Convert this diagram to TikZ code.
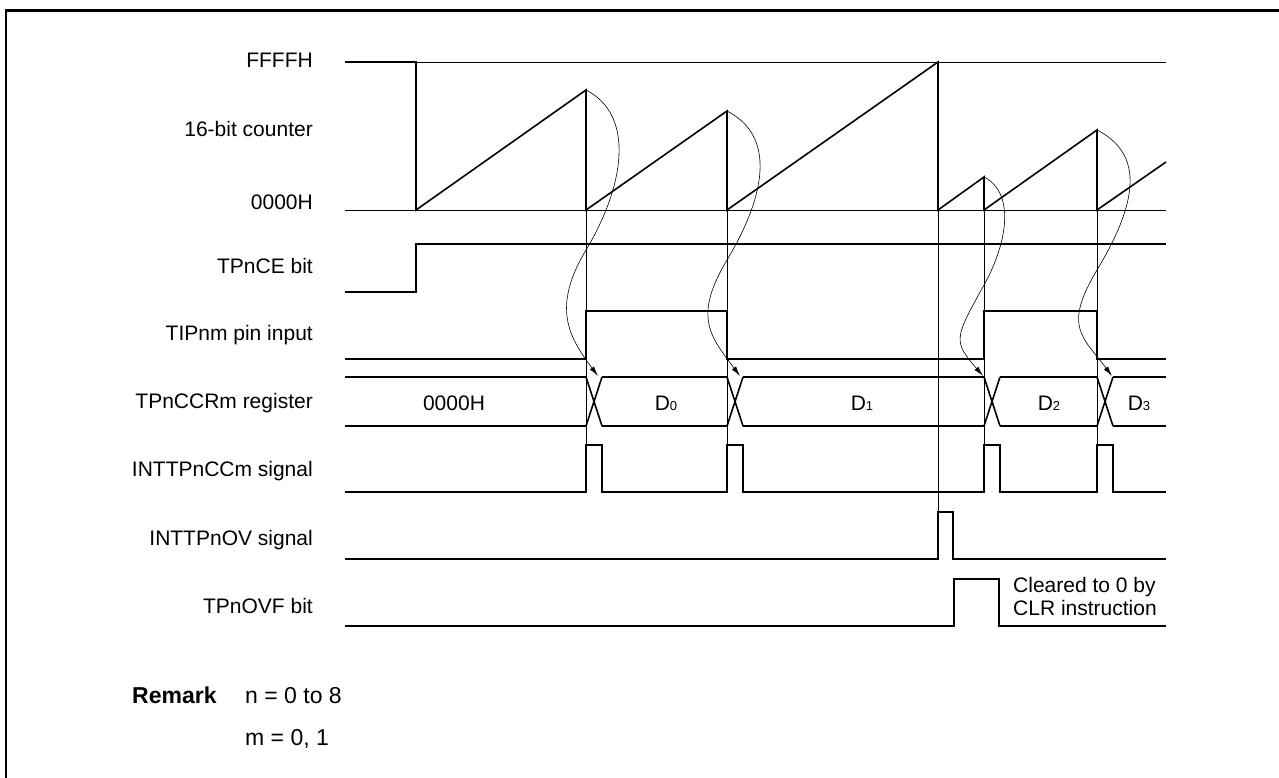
\documentclass[tikz,border=0pt]{standalone}
\usepackage{fontspec}
\setmainfont{Liberation Sans}
\usepackage{tikz}
\usetikzlibrary{arrows.meta,calc}
\tikzset{  wave/.style={line width=1.6pt},
  guide/.style={line width=0.6pt},
  capt/.style={line width=0.6pt,-{Latex[length=10pt,width=5pt]}},
  lbl/.style={anchor=base east,inner sep=0pt,font=\fontsize{21}{25}\selectfont},
  busl/.style={anchor=base,inner sep=0pt,font=\fontsize{21}{25}\selectfont},
  rmk/.style={anchor=base west,inner sep=0pt,font=\fontsize{23}{27}\selectfont} }
\newcommand{\dsub}[1]{{\fontsize{13}{13}\selectfont #1}}

\begin{document}
\begin{tikzpicture}[x=1pt,y=-1pt]
    \useasboundingbox (0,0) rectangle (1279,778);
    \draw[line width=2.5pt] (6,778) -- (6,10.5) -- (1279,10.5);
    \node[lbl] (ffff) at (313,68) {FFFFH};
    \node[lbl] (cnt) at (313,137) {16-bit counter};
    \node[lbl] (zero) at (313,209) {0000H};
    \node[lbl] (ce) at (313,273) {TPnCE bit};
    \node[lbl] (tip) at (313,340) {TIPnm pin input};
    \node[lbl] (ccr) at (313,408) {TPnCCRm register};
    \node[lbl] (intcc) at (313,476) {INTTPnCCm signal};
    \node[lbl] (intov) at (313,545) {INTTPnOV signal};
    \node[lbl] (ovf) at (313,613) {TPnOVF bit};
    \draw[guide] (416,62) -- (1166,62);
    \draw[guide] (345,210) -- (1166,210);
    \draw[wave] (345,62) -- (416,62) -- (416,210) -- (586,90) -- (586,210) -- (727,111) -- (727,210)
      -- (938,62) -- (938,210) -- (984,177) -- (984,210) -- (1097,130) -- (1097,210) -- (1166,162);
    \draw[wave] (345,292) -| (416,244) -- (1166,244);
    \draw[wave] (345,359) -| (586,311) -| (727,359) -| (984,311) -| (1097,359) -- (1166,359);
    \foreach \a/\b in {345/586,602/727,743/984,1000/1097,1113/1166}
      \draw[wave] (\a,377) -- (\b,377) (\a,426) -- (\b,426);
    \foreach \t in {586,727,984,1097}
      \draw[wave] (\t,377) -- (\t+16,426) (\t,426) -- (\t+16,377);
    \node[busl] (r0) at (454,410) {0000H};
    \node[busl] (d0) at (666,410) {D\dsub{0}};
    \node[busl] (d1) at (862,410) {D\dsub{1}};
    \node[busl] (d2) at (1049,410) {D\dsub{2}};
    \node[busl] (d3) at (1139,410) {D\dsub{3}};
    \draw[wave] (345,492) -| (586,445) -| (602,492) -| (727,445) -| (743,492) -| (984,445) -| (1000,492)
      -| (1097,445) -| (1113,492) -- (1166,492);
    \draw[wave] (345,559) -| (938,512) -| (953,559) -- (1166,559);
    \draw[wave] (345,626) -| (954,579) -| (999,626) -- (1166,626);
    \node[anchor=west,inner sep=0pt,align=left,font=\fontsize{21}{23}\selectfont] (clr) at (1013,596)
      {Cleared to 0 by\\CLR instruction};
    \foreach \t in {586,727,984,1097}
      \draw[guide] (\t,210) -- (\t,445);
    \draw[guide] (938,210) -- (938,512);
    \coordinate (pk0) at (586,90);
    \coordinate (pk1) at (727,111);
    \coordinate (pk2) at (984,177);
    \coordinate (pk3) at (1097,130);
    \coordinate (tp0) at (598,376);
    \coordinate (tp1) at (740,376);
    \coordinate (tp2) at (983,376);
    \coordinate (tp3) at (1112,376);
    \draw[capt] (pk0) .. controls +(49,25) and +(39,-65) .. ++(0,160) .. controls +(-34,57) and +(-30,-40) .. (tp0);
    \draw[capt] (pk1) .. controls +(49,25) and +(39,-65) .. ++(0,149) .. controls +(-34,57) and +(-30,-40) .. (tp1);
    \draw[capt] (pk2) .. controls +(30,15) and +(25,-45) .. ++(0,108) .. controls +(-30,54) and +(-30,-35) .. (tp2);
    \draw[capt] (pk3) .. controls +(49,25) and +(39,-65) .. ++(0,140) .. controls +(-34,57) and +(-30,-40) .. (tp3);
    \node[rmk] (rem) at (132,703) {\bfseries Remark};
    \node[rmk] (rn) at (245,703) {n = 0 to 8};
    \node[rmk] (rm) at (245,745) {m = 0, 1};
    \end{tikzpicture}
\end{document}
